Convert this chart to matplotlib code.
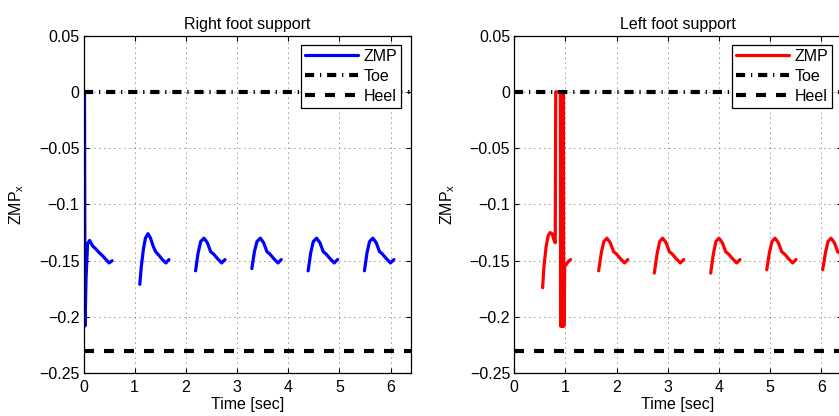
import numpy as np
import matplotlib
matplotlib.use("Agg")
import matplotlib.pyplot as plt
from matplotlib.ticker import FuncFormatter

plt.rcParams['font.family'] = ['Liberation Sans', 'DejaVu Sans']
plt.rcParams['mathtext.fontset'] = 'custom'
plt.rcParams['mathtext.rm'] = 'Liberation Sans'
plt.rcParams['font.size'] = 11.5

nan = np.nan

# right foot support: ZMP_x, segments separated by nan
t_right = [0.02, 0.03, 0.05, 0.08, 0.12, 0.18, 0.25, 0.31, 0.38, 0.44, 0.50, 0.56, nan,
           1.10, 1.13, 1.17, 1.21, 1.26, 1.31, 1.36, 1.41, 1.47, 1.54, 1.61, 1.67, nan,
           2.19, 2.24, 2.29, 2.355, 2.42, 2.485, 2.54, 2.615, 2.70, 2.765, nan,
           3.29, 3.34, 3.39, 3.455, 3.52, 3.585, 3.64, 3.715, 3.80, 3.865, nan,
           4.39, 4.44, 4.49, 4.555, 4.62, 4.685, 4.74, 4.815, 4.90, 4.965, nan,
           5.49, 5.54, 5.59, 5.655, 5.72, 5.785, 5.84, 5.915, 6.00, 6.065]
zmp_right = [0.0, -0.208, -0.165, -0.135, -0.132, -0.137, -0.140, -0.143, -0.146, -0.149, -0.152, -0.150, nan,
             -0.171, -0.155, -0.140, -0.130, -0.126, -0.130, -0.137, -0.142, -0.145, -0.149, -0.152, -0.149, nan,
             -0.159, -0.143, -0.133, -0.130, -0.134, -0.142, -0.144, -0.148, -0.152, -0.149, nan,
             -0.157, -0.142, -0.133, -0.130, -0.134, -0.142, -0.144, -0.148, -0.152, -0.149, nan,
             -0.159, -0.143, -0.133, -0.130, -0.134, -0.142, -0.144, -0.148, -0.152, -0.149, nan,
             -0.159, -0.143, -0.133, -0.130, -0.134, -0.142, -0.144, -0.148, -0.152, -0.149]

# left foot support: ZMP_x
t_left = [0.553, 0.58, 0.62, 0.66, 0.70, 0.74, 0.77, 0.80, 0.81, 0.90, 0.905, 0.915, 0.92, 0.93,
          0.935, 0.945, 0.95, 0.96, 0.965, 0.972, 0.985, 1.02, 1.05, 1.10, nan,
          1.648, 1.70, 1.75, 1.81, 1.875, 1.94, 1.995, 2.07, 2.155, 2.22, nan,
          2.736, 2.79, 2.84, 2.90, 2.965, 3.03, 3.085, 3.16, 3.245, 3.31, nan,
          3.838, 3.89, 3.94, 4.00, 4.065, 4.13, 4.185, 4.26, 4.345, 4.41, nan,
          4.933, 4.985, 5.035, 5.095, 5.16, 5.225, 5.28, 5.355, 5.44, 5.505, nan,
          6.027, 6.08, 6.13, 6.19, 6.255, 6.32, 6.375]
zmp_left = [-0.174, -0.155, -0.138, -0.128, -0.125, -0.126, -0.131, -0.134, 0.0, 0.0, -0.208, 0.0, -0.208, 0.0,
            -0.208, 0.0, -0.208, 0.0, -0.208, -0.208, -0.155, -0.153, -0.151, -0.149, nan,
            -0.159, -0.143, -0.133, -0.130, -0.134, -0.142, -0.144, -0.148, -0.152, -0.149, nan,
            -0.161, -0.144, -0.133, -0.130, -0.134, -0.142, -0.144, -0.148, -0.152, -0.149, nan,
            -0.161, -0.144, -0.133, -0.130, -0.134, -0.142, -0.144, -0.148, -0.152, -0.149, nan,
            -0.158, -0.143, -0.133, -0.130, -0.134, -0.142, -0.144, -0.148, -0.152, -0.149, nan,
            -0.158, -0.143, -0.133, -0.130, -0.134, -0.142, -0.144]

toe = 0.0
heel = -0.23
x_ticks = [0, 1, 2, 3, 4, 5, 6]
y_ticks = [-0.25, -0.2, -0.15, -0.1, -0.05, 0, 0.05]

panels = [
    ("Right foot support", t_right, zmp_right, "blue", [83.5 / 839, 42.7 / 416, 327.5 / 839, 337.8 / 416]),
    ("Left foot support", t_left, zmp_left, "red", [514.3 / 839, 42.7 / 416, 327.5 / 839, 337.8 / 416]),
]


def fmt(v, pos):
    return ('%g' % round(v, 3)).replace('-', '\u2212')


fig = plt.figure(figsize=(8.39, 4.16), dpi=100)

for title, t, z, col, rect in panels:
    ax = fig.add_axes(rect)
    ax.plot(t, z, color=col, lw=2.3, solid_capstyle='round', label='ZMP')
    ax.plot([0, 6.4], [toe, toe], color='k', lw=3, dashes=(2.2, 1.4, 0.3, 1.4), label='Toe')
    ax.plot([0, 6.4], [heel, heel], color='k', lw=3, dashes=(2.4, 2.4), label='Heel')

    ax.set_xlim(0, 6.4)
    ax.set_ylim(-0.25, 0.05)
    ax.set_xticks(x_ticks)
    ax.set_yticks(y_ticks)
    ax.yaxis.set_major_formatter(FuncFormatter(fmt))
    ax.tick_params(direction='in', top=True, right=True, length=3.5, width=0.8)
    ax.tick_params(axis='y', pad=3)
    ax.tick_params(axis='x', pad=5)
    for s in ax.spines.values():
        s.set_linewidth(0.9)
    ax.grid(True, color='k', lw=0.6, linestyle=(0, (1, 5)), alpha=0.8)

    ax.set_title(title, fontsize=11.5, pad=5)
    ax.set_xlabel('Time [sec]', labelpad=1.5)
    ax.set_ylabel(r'ZMP$_\mathrm{x}$')
    ax.yaxis.set_label_coords(-0.175, 0.5)

    leg = ax.legend(loc='upper right', fancybox=False, framealpha=1, edgecolor='k',
                    borderaxespad=0.6, handlelength=3.3, labelspacing=0.3,
                    handletextpad=0.35, borderpad=0.25)
    leg.get_frame().set_linewidth(0.9)

fig.savefig('out.png', dpi=100)
